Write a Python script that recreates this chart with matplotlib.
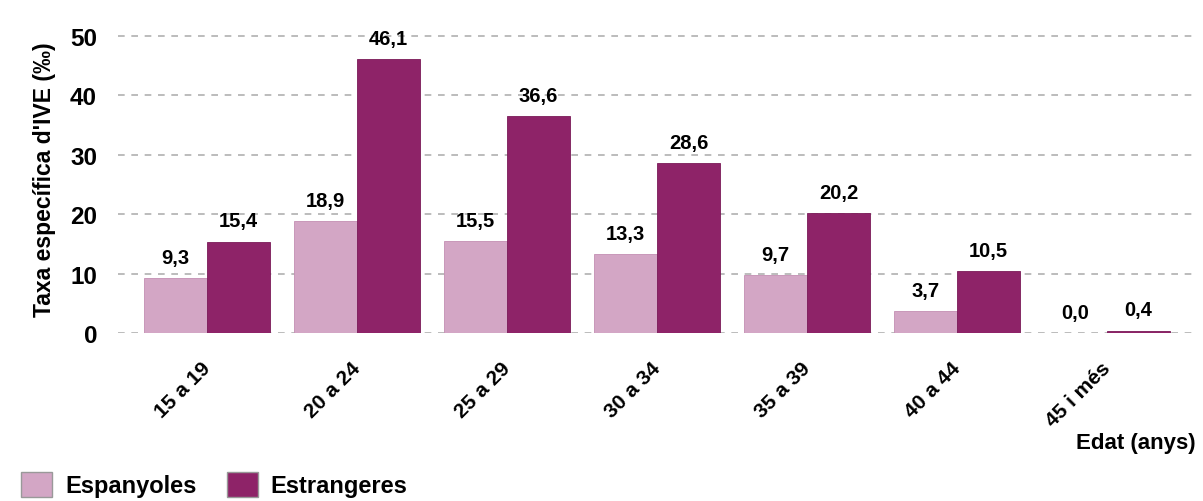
import numpy as np
import matplotlib.pyplot as plt
import matplotlib.transforms as mtransforms
from matplotlib.patches import Patch

plt.rcParams['font.family'] = ['Liberation Sans', 'DejaVu Sans']

# Data
edats = ['15 a 19', '20 a 24', '25 a 29', '30 a 34', '35 a 39', '40 a 44', '45 i més']
espanyoles = [9.3, 18.9, 15.5, 13.3, 9.7, 3.7, 0.0]
estrangeres = [15.4, 46.1, 36.6, 28.6, 20.2, 10.5, 0.4]

col_esp = '#d3a6c5'
col_est = '#8e2368'

fig = plt.figure(figsize=(12.03, 5.02), dpi=100)
ax = fig.add_axes([0.098, 0.3347, 0.898, 0.615])

x = np.arange(len(edats))
w = 0.42
b1 = ax.bar(x - w / 2, espanyoles, w, color=col_esp, edgecolor='#c48fb3', linewidth=0.6, zorder=3)
b2 = ax.bar(x + w / 2, estrangeres, w, color=col_est, edgecolor='#7a1a58', linewidth=0.6, zorder=3)

for bars, vals in [(b1, espanyoles), (b2, estrangeres)]:
    for rect, v in zip(bars, vals):
        ax.annotate(f'{v:.1f}'.replace('.', ','),
                    (rect.get_x() + rect.get_width() / 2, rect.get_height()),
                    xytext=(0, 8), textcoords='offset points',
                    ha='center', va='bottom', fontsize=14.5, fontweight='bold',
                    clip_on=False, zorder=4)

ax.set_ylim(0, 52)
ax.set_xlim(-0.593, 6.607)
ax.set_yticks([0, 10, 20, 30, 40, 50])
ax.yaxis.grid(True, linestyle=(0, (4, 4)), color='#b0b0b0', linewidth=1.2, zorder=0)
ax.set_axisbelow(True)
for s in ax.spines.values():
    s.set_visible(False)
ax.tick_params(axis='both', length=0)
ax.tick_params(axis='y', labelsize=17.5, pad=15)
for lbl in ax.get_yticklabels():
    lbl.set_fontweight('bold')

ax.set_xticks(x)
ax.set_xticklabels(edats, rotation=45, ha='right', rotation_mode='anchor',
                   fontsize=15, fontweight='bold')
ax.tick_params(axis='x', pad=18)
shift = mtransforms.ScaledTranslation(-6 / 100, 0, fig.dpi_scale_trans)
for lbl in ax.get_xticklabels():
    lbl.set_transform(lbl.get_transform() + shift)

ax.set_ylabel("Taxa específica d'IVE (‰)", fontsize=16.5, fontweight='bold', labelpad=10)

fig.text(0.994, 0.1175, 'Edat (anys)', ha='right', va='center', fontsize=16, fontweight='bold')

handles = [Patch(facecolor=col_esp, edgecolor='#999999', label='Espanyoles'),
           Patch(facecolor=col_est, edgecolor='#999999', label='Estrangeres')]
fig.legend(handles=handles, loc='lower left', bbox_to_anchor=(0.0, -0.035), ncol=2,
           frameon=False, prop={'size': 17, 'weight': 'bold'},
           handlelength=1.3, handleheight=1.3, columnspacing=1.3, handletextpad=0.55)

fig.savefig('out.png', dpi=100)
